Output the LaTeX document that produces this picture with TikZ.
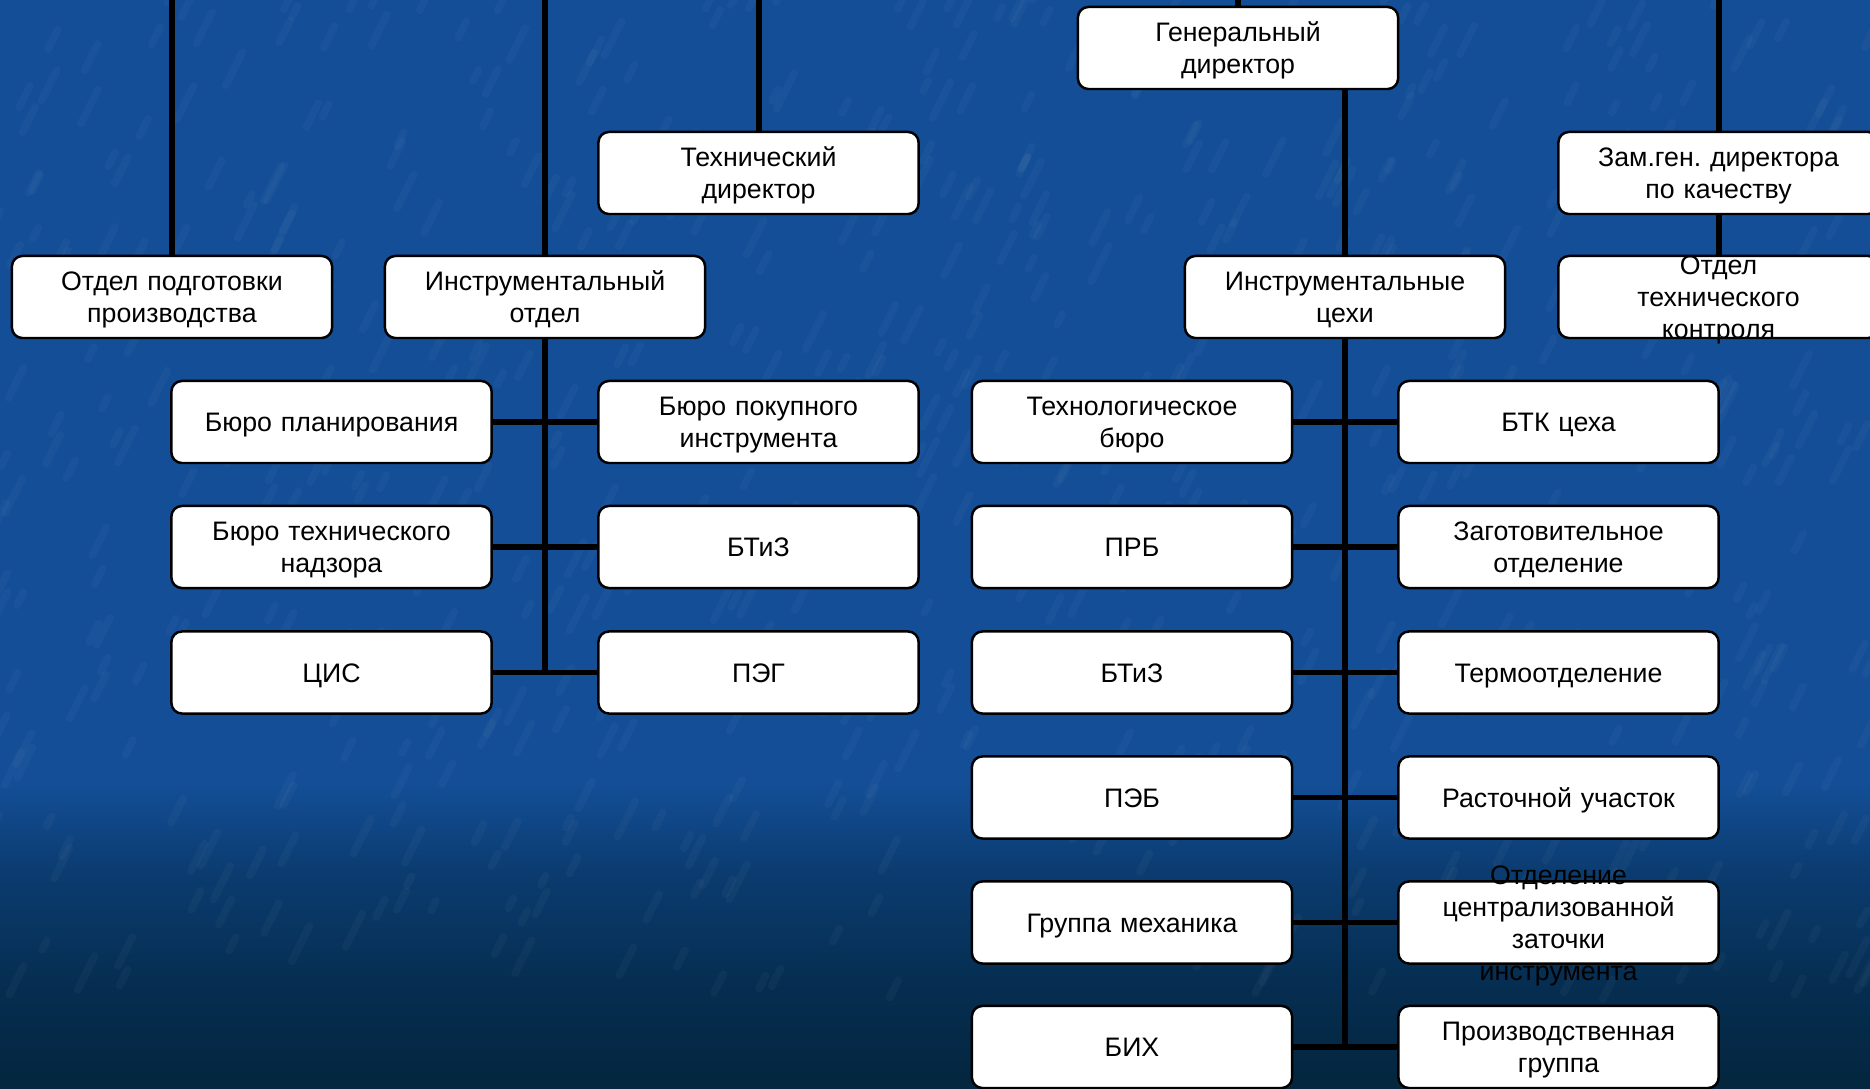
\documentclass[tikz,border=0pt]{standalone}
\usepackage{fontspec}
\setmainfont{Liberation Sans}
\definecolor{bgtop}{RGB}{19,78,150}
\definecolor{bgmid}{RGB}{11,60,112}
\definecolor{bglow}{RGB}{6,46,82}
\definecolor{bgbot}{RGB}{4,38,62}
\pgfdeclareverticalshading{bgshade}{100bp}{color(0bp)=(bgbot); color(25bp)=(bgbot); color(30bp)=(bglow); color(35bp)=(bgmid); color(39bp)=(bgtop); color(100bp)=(bgtop)}
\begin{document}
\begin{tikzpicture}[x=0.01cm,y=-0.01cm,
  txt/.style={inner sep=0pt, text width=3.1cm, align=center,
    font=\fontsize{7.6pt}{9.1pt}\selectfont\frenchspacing},
  box/.style={txt, draw=black, line width=0.7pt, fill=white, rounded corners=3pt,
    minimum width=3.2cm, minimum height=0.82cm, text height=6.9pt},
  box1/.style={box, text height=6pt, text depth=0.5pt},
  conn/.style={line width=1.7pt, black}]
\clip (0,0) rectangle (1870,1089);
\shade[shading=bgshade] (0,0) rectangle (1870,1089);
\pgfmathsetseed{11}
\foreach \i in {1,...,700}{
  \pgfmathsetmacro{\xx}{rnd*1900-20}
  \pgfmathsetmacro{\yy}{rnd*1000}
  \pgfmathsetmacro{\ll}{10+rnd*30}
  \draw[white, opacity=0.03, line width=2.2pt, line cap=round] (\xx,\yy) -- ++(\ll*0.45,-\ll*0.9);
}
% top coordinates
\coordinate (t1) at (172,0);
\coordinate (t2) at (545,0);
\coordinate (t3) at (758.5,0);
\coordinate (t4) at (1238,0);
\coordinate (t5) at (1718.5,0);
\path
 (1238,48) node[box] (gen) {Генеральный\\директор}
 (758.5,173) node[box] (tech) {Технический\\директор}
 (1718.5,173) node[box] (zam) {Зам.ген. директора\\по качеству}
 (172,297) node[box] (opp) {Отдел подготовки\\производства}
 (545,297) node[box] (instr) {Инструментальный\\отдел}
 (1345,297) node[box] (cehi) {Инструментальные\\цехи}
 (1718.5,297) node[box] (otk) {}
 (331.5,422) node[box1] (la1) {Бюро планирования}
 (758.5,422) node[box] (lb1) {Бюро покупного\\инструмента}
 (331.5,547) node[box] (la2) {Бюро технического\\надзора}
 (758.5,547) node[box1] (lb2) {БТиЗ}
 (331.5,672.5) node[box1] (la3) {ЦИС}
 (758.5,672.5) node[box1] (lb3) {ПЭГ}
 (1132,422) node[box] (ra1) {Технологическое\\бюро}
 (1558.5,422) node[box1] (rb1) {БТК цеха}
 (1132,547) node[box1] (ra2) {ПРБ}
 (1558.5,547) node[box] (rb2) {Заготовительное\\отделение}
 (1132,672.5) node[box1] (ra3) {БТиЗ}
 (1558.5,672.5) node[box1] (rb3) {Термоотделение}
 (1132,797.5) node[box1] (ra4) {ПЭБ}
 (1558.5,797.5) node[box1] (rb4) {Расточной участок}
 (1132,922.5) node[box1] (ra5) {Группа механика}
 (1558.5,922.5) node[box] (rb5) {}
 (1132,1047) node[box1] (ra6) {БИХ}
 (1558.5,1047) node[box] (rb6) {Производственная\\группа};
\node[txt] (otktext) at ([yshift=-0.7pt]otk.center) {Отдел\\технического\\контроля};
\node[txt] (rb5text) at ([yshift=-0.9pt]rb5.center) {Отделение\\централизованной\\заточки\\инструмента};
\draw[conn] (t1) -- (opp.north);
\draw[conn] (t2) -- (instr.north);
\draw[conn] (instr.south) -- (instr.south |- la3.east);
\draw[conn] (t3) -- (tech.north);
\draw[conn] (t4) -- (gen.north);
\draw[conn] (gen.south -| cehi.north) -- (cehi.north);
\draw[conn] (cehi.south) -- (cehi.south |- ra6.east);
\draw[conn] (t5) -- (zam.north);
\draw[conn] (zam.south) -- (otk.north);
\foreach \k in {1,2,3}{ \draw[conn] (la\k.east) -- (lb\k.west); }
\foreach \k in {1,...,6}{ \draw[conn] (ra\k.east) -- (rb\k.west); }
\end{tikzpicture}
\end{document}
